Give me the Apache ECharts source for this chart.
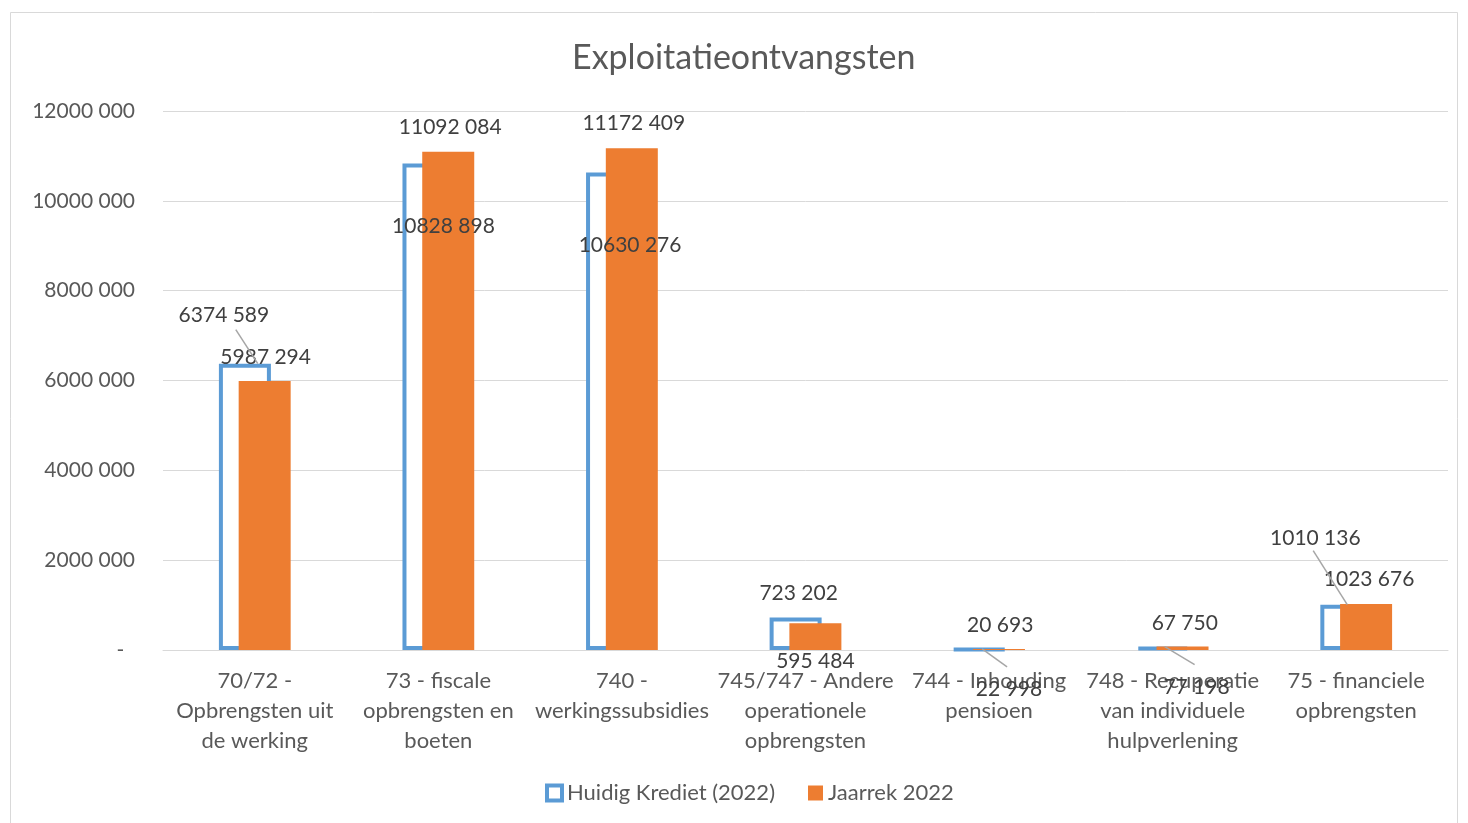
<!DOCTYPE html>
<html>
<head>
<meta charset="utf-8">
<script src="https://cdn.jsdelivr.net/npm/echarts@6/dist/echarts.min.js"></script>
<style>
html,body{margin:0;padding:0;background:#fff;}
#c{width:1468px;height:823px;}
</style>
</head>
<body>
<div id="c"></div>
<script>
var categories = [
  "70/72 -\nOpbrengsten uit\nde werking",
  "73 - fiscale\nopbrengsten en\nboeten",
  "740 -\nwerkingssubsidies",
  "745/747 - Andere\noperationele\nopbrengsten",
  "744 - Inhouding\npensioen",
  "748 - Recuperatie\nvan individuele\nhulpverlening",
  "75 - financiele\nopbrengsten"
];
var seriesNames = ["Huidig Krediet (2022)", "Jaarrek 2022"];
var huidigKrediet = [6374589, 10828898, 10630276, 723202, 20693, 67750, 1010136];
var jaarrek = [5987294, 11092084, 11172409, 595484, 22998, 77198, 1023676];
var yMin = 0, yMax = 12000000, yInterval = 2000000;

// label placement (style only, pixel shifts from default 'top' position)
var blueLabelShift = [[-21,-33],[15,78],[18,88],[3,-9],[21,-8],[22,-8],[-31,-51]];
var orangeLabelShift = [[1,-8],[2,-9],[2,-9],[0,53],[10,56],[14,56],[3,-9]];
// leader lines: [seriesIndex, categoryIndex, fromDx, fromDy, toDx, toDy] (pixel offsets from bar-top at category centre)
var leaderStyle = [
  [0, 0, 3, 0, -19, -34],
  [0, 6, -9, 0, -43, -54],
  [1, 4, -7, 0, 18, 18],
  [1, 5, -8, 0, 22, 18]
];

function fmt(v){
  if (v === 0) return '-';
  var k = Math.floor(v/1000), r = v % 1000;
  var rs = ('00' + r).slice(-3);
  return k > 0 ? (k + ' ' + rs) : String(r);
}

var FONT = 'Lato';
var TXT = '#595959';
var chart = echarts.init(document.getElementById('c'));

var valueSets = [huidigKrediet, jaarrek];
var leaderData = leaderStyle.map(function(l){
  return [l[1], valueSets[l[0]][l[1]], l[2], l[3], l[4], l[5]];
});

function labelCfg(shift){
  return {
    label: {
      show: true, position: 'top', distance: 5,
      fontFamily: FONT, fontSize: 21, color: '#404040',
      formatter: function(p){ return fmt(p.value); }
    },
    labelLayout: function(p){
      var s = shift[p.dataIndex];
      return {dx: s[0], dy: s[1]};
    }
  };
}

var blueLabels = Object.assign({
  name: 'lbl0', type: 'bar', xAxisIndex: 1, barWidth: 52, barGap: '-62%',
  data: huidigKrediet, itemStyle: {color: 'rgba(0,0,0,0)'}, z: 5, silent: true
}, labelCfg(blueLabelShift));
var orangeLabels = Object.assign({
  name: 'lbl1', type: 'bar', xAxisIndex: 1, barWidth: 52,
  data: jaarrek, itemStyle: {color: 'rgba(0,0,0,0)'}, z: 5, silent: true
}, labelCfg(orangeLabelShift));

chart.setOption({
  backgroundColor: '#ffffff',
  textStyle: {fontFamily: FONT},
  animation: false,
  graphic: [{
    type: 'rect', silent: true, z: -10,
    shape: {x: 10.5, y: 12.5, width: 1447, height: 820},
    style: {fill: 'none', stroke: '#d9d9d9', lineWidth: 1}
  }],
  title: {
    text: 'Exploitatieontvangsten',
    left: 567, top: 36,
    textStyle: {fontFamily: FONT, fontSize: 34, fontWeight: 'normal', color: TXT}
  },
  legend: {
    bottom: 14, left: 540,
    itemWidth: 15, itemHeight: 15, itemGap: 33,
    icon: 'rect',
    textStyle: {fontFamily: FONT, fontSize: 22, color: TXT},
    data: [
      {name: seriesNames[0], itemStyle: {color: '#ffffff', borderColor: '#5B9BD5', borderWidth: 4}},
      {name: seriesNames[1]}
    ]
  },
  grid: {left: 163, right: 20, top: 111, bottom: 173, containLabel: false},
  xAxis: [{
    type: 'category',
    data: categories,
    axisTick: {show: false},
    axisLine: {lineStyle: {color: '#d9d9d9', width: 1}},
    axisLabel: {
      interval: 0, margin: 16,
      fontFamily: FONT, fontSize: 22, color: TXT, lineHeight: 30
    }
  }, {
    type: 'category',
    data: categories,
    show: false
  }],
  yAxis: {
    type: 'value',
    min: yMin, max: yMax, interval: yInterval,
    axisLine: {show: false},
    axisTick: {show: false},
    splitLine: {lineStyle: {color: '#d9d9d9', width: 1}},
    axisLabel: {
      margin: 28,
      fontFamily: FONT, fontSize: 21, color: TXT,
      formatter: function(v){ return v === 0 ? '-  ' : fmt(v); }
    }
  },
  series: [
    {
      name: seriesNames[0],
      type: 'bar',
      barWidth: 52,
      barGap: '-62%',
      data: huidigKrediet,
      itemStyle: {color: '#ffffff', borderColor: '#5B9BD5', borderWidth: 4},
      z: 2
    },
    {
      name: seriesNames[1],
      type: 'bar',
      barWidth: 52,
      data: jaarrek,
      itemStyle: {color: '#ED7D31'},
      z: 3
    },
    blueLabels,
    orangeLabels,
    {
      name: 'leaders',
      type: 'custom',
      xAxisIndex: 0,
      z: 6, silent: true,
      data: leaderData,
      renderItem: function(params, api){
        var p = api.coord([api.value(0), api.value(1)]);
        return {
          type: 'line',
          shape: {
            x1: p[0] + api.value(2), y1: p[1] + api.value(3),
            x2: p[0] + api.value(4), y2: p[1] + api.value(5)
          },
          style: {stroke: '#a6a6a6', lineWidth: 1.5}
        };
      }
    }
  ]
});
</script>
</body>
</html>
